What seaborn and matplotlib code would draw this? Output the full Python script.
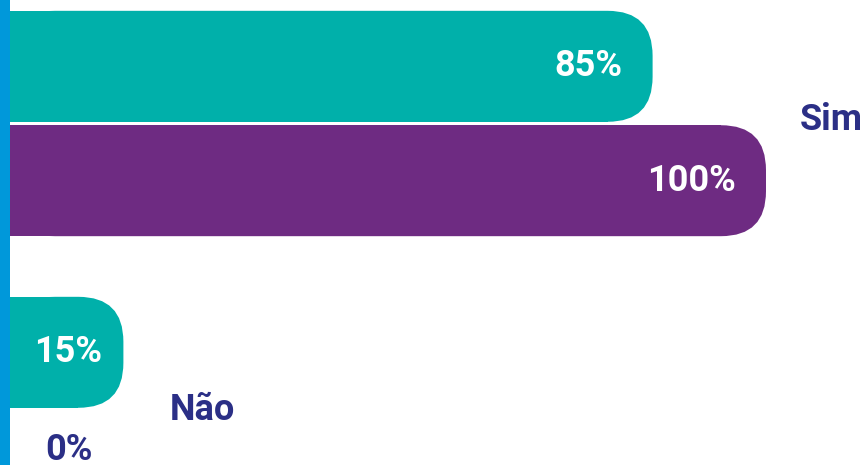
import matplotlib
matplotlib.use('Agg')
import matplotlib.pyplot as plt
from matplotlib.patches import FancyBboxPatch
import pandas as pd
import seaborn as sns

categorias = ['Sim', 'Não']
series = ['Série A', 'Série B']
valores_a = [85, 15]
valores_b = [100, 0]
cores = ['#00B0AA', '#6E2B82']
azul = '#0098DA'
navy = '#2B2F86'

df = pd.DataFrame({
    'categoria': categorias * 2,
    'serie': [series[0]] * 2 + [series[1]] * 2,
    'valor': valores_a + valores_b,
})

sns.set_style('white')
plt.rcParams['font.family'] = ['Roboto', 'DejaVu Sans']
fs = 26

fig = plt.figure(figsize=(8.6, 4.65), dpi=100)
ax = fig.add_axes([0, 0, 1, 1])
sns.barplot(data=df, x='valor', y='categoria', hue='serie', orient='h',
            palette=cores, width=0.8, gap=0.03, legend=False, ax=ax,
            saturation=1, linewidth=0, edgecolor='none')

# escala: 100% ocupa ~756 px, barras começam em ~10 px
xmin, xmax = -10 * 100 / 756, 850 * 100 / 756
ytop, ybot = -123.5 / 286, 1 + 55.5 / 286
ax.set_xlim(xmin, xmax)
ax.set_ylim(ybot, ytop)
ax.axis('off')

px_x = (xmax - xmin) / 860
px_y = (ybot - ytop) / 465
raio = 45 * px_x
aspecto = px_y / px_x

# pontas arredondadas à direita
for p in list(ax.patches):
    w = p.get_width()
    if w > 0:
        fb = FancyBboxPatch((p.get_x(), p.get_y()), w, p.get_height(),
                            boxstyle=f'round,pad=0,rounding_size={raio}',
                            mutation_aspect=aspecto, linewidth=0,
                            facecolor=p.get_facecolor(), edgecolor='none', zorder=2)
        ax.add_patch(fb)
        p.set_width(max(w - raio, 0))
        p.set_zorder(3)

ax.axvspan(xmin, 0, color=azul, linewidth=0, zorder=5)

# rótulos de valor
for j, vals in enumerate([valores_a, valores_b]):
    for i, v in enumerate(vals):
        yc = i + (j - 0.5) * 0.4
        if v > 0:
            pad = 30 if v > 50 else 21
            ax.annotate(f'{v}%', xy=(v, yc), xytext=(-pad, 0),
                        textcoords='offset pixels', ha='right', va='center',
                        color='white', fontsize=fs, fontweight='bold', zorder=6,
                        annotation_clip=False)
        else:
            ax.annotate(f'{v}%', xy=(v, yc), xytext=(35, 17),
                        textcoords='offset pixels', ha='left', va='center',
                        color=navy, fontsize=fs, fontweight='bold', zorder=6,
                        annotation_clip=False)

# rótulos das categorias
for i, cat in enumerate(categorias):
    m = max(valores_a[i], valores_b[i])
    pad = 34 if m > 50 else 46
    dy = 4 if m > 50 else 0
    ax.annotate(cat, xy=(m, i), xytext=(pad, dy), textcoords='offset pixels',
                ha='left', va='center', color=navy, fontsize=fs,
                fontweight='bold', annotation_clip=False)

fig.savefig('out.png', dpi=100)
